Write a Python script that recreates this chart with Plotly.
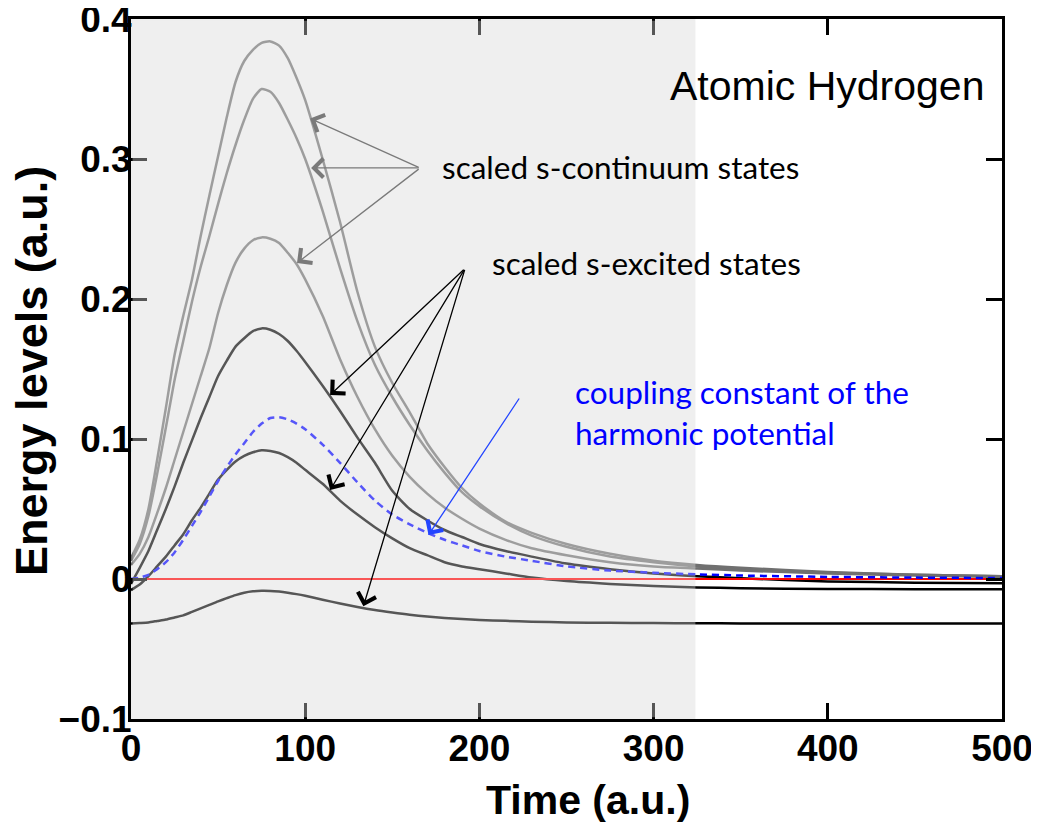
import plotly.graph_objects as go

# time grid (a.u.)
time = [0, 5, 10, 15, 20, 25, 30, 35, 40, 45, 50, 55, 60, 65, 70, 75, 80, 85, 90, 95,
        100, 110, 120, 130, 140, 150, 160, 170, 180, 190, 200, 215, 230, 250, 275,
        300, 325, 350, 400, 450, 500]

# scaled s-continuum states
cont_1 = [0.015, 0.028, 0.050, 0.085, 0.122, 0.160, 0.188, 0.214, 0.245, 0.274, 0.302,
          0.330, 0.355, 0.370, 0.378, 0.383, 0.384, 0.381, 0.372, 0.358, 0.342, 0.300,
          0.255, 0.205, 0.166, 0.140, 0.119, 0.097, 0.080, 0.065, 0.054, 0.041, 0.033,
          0.025, 0.018, 0.013, 0.010, 0.008, 0.005, 0.003, 0.002]
cont_2 = [0.013, 0.025, 0.045, 0.075, 0.108, 0.142, 0.170, 0.198, 0.223, 0.245, 0.268,
          0.290, 0.310, 0.328, 0.343, 0.350, 0.348, 0.340, 0.328, 0.315, 0.300, 0.263,
          0.222, 0.184, 0.153, 0.130, 0.110, 0.092, 0.076, 0.062, 0.052, 0.040, 0.031,
          0.023, 0.016, 0.012, 0.009, 0.007, 0.0045, 0.003, 0.002]
cont_3 = [0.010, 0.018, 0.030, 0.047, 0.065, 0.085, 0.105, 0.125, 0.145, 0.165, 0.190,
          0.210, 0.226, 0.236, 0.242, 0.244, 0.243, 0.240, 0.233, 0.225, 0.214, 0.188,
          0.157, 0.130, 0.107, 0.088, 0.073, 0.061, 0.051, 0.043, 0.036, 0.028, 0.022,
          0.017, 0.012, 0.009, 0.0075, 0.006, 0.004, 0.0025, 0.0015]

# scaled s-excited states
exc_1 = [-0.0035, 0.008, 0.020, 0.035, 0.050, 0.066, 0.083, 0.099, 0.115, 0.130, 0.145,
         0.156, 0.166, 0.172, 0.177, 0.179, 0.178, 0.175, 0.170, 0.163, 0.155, 0.138,
         0.120, 0.101, 0.083, 0.063, 0.050, 0.042, 0.035, 0.030, 0.025, 0.020, 0.016,
         0.011, 0.007, 0.004, 0.002, 0.0005, -0.0017, -0.0026, -0.003]
exc_2 = [-0.0079, -0.004, 0.002, 0.009, 0.016, 0.024, 0.032, 0.042, 0.051, 0.061, 0.071,
         0.078, 0.084, 0.088, 0.0905, 0.092, 0.0915, 0.090, 0.087, 0.083, 0.078, 0.068,
         0.056, 0.046, 0.037, 0.029, 0.022, 0.017, 0.012, 0.009, 0.007, 0.004, 0.001,
         -0.0015, -0.0035, -0.005, -0.006, -0.0066, -0.0071, -0.0073, -0.0074]
exc_3 = [-0.0317, -0.0314, -0.031, -0.030, -0.029, -0.0275, -0.026, -0.0235, -0.021,
         -0.0185, -0.016, -0.0137, -0.0115, -0.0098, -0.0088, -0.0084, -0.0085, -0.009,
         -0.0098, -0.0108, -0.012, -0.0148, -0.0175, -0.020, -0.0222, -0.024, -0.0256,
         -0.0268, -0.0278, -0.0286, -0.0292, -0.0299, -0.0305, -0.031, -0.0313, -0.0315,
         -0.0316, -0.0317, -0.0317, -0.0317, -0.0317]

# coupling constant of the harmonic potential
coupling = [0.0, 0.001, 0.003, 0.007, 0.012, 0.019, 0.028, 0.038, 0.048, 0.059, 0.070,
            0.080, 0.089, 0.097, 0.105, 0.111, 0.115, 0.1155, 0.114, 0.111, 0.107, 0.096,
            0.083, 0.069, 0.056, 0.046, 0.039, 0.033, 0.028, 0.024, 0.020, 0.016, 0.013,
            0.009, 0.006, 0.0045, 0.0033, 0.0025, 0.0015, 0.001, 0.0007]

zero_x = [0, 500]
zero_y = [0, 0]

x_ticks = [0, 100, 200, 300, 400, 500]
y_ticks = [-0.1, 0, 0.1, 0.2, 0.3, 0.4]

SHADE_END = 324

CONT_COLOR = "#707070"
EXC_COLOR = "#000000"
BLUE = "#0000FF"
RED = "#FF0000"

AXIS_FONT = "Liberation Sans, Arial, Helvetica, sans-serif"
NOTE_FONT = "Lato, Carlito, Calibri, sans-serif"

fig = go.Figure()

for ys in [cont_1, cont_2, cont_3]:
    fig.add_trace(
        go.Scatter(
            x=time,
            y=ys,
            mode="lines",
            line=dict(color=CONT_COLOR, width=2.5, shape="spline", smoothing=0.6),
            showlegend=False
        )
    )

for ys in [exc_1, exc_2, exc_3]:
    fig.add_trace(
        go.Scatter(
            x=time,
            y=ys,
            mode="lines",
            line=dict(color=EXC_COLOR, width=2.5, shape="spline", smoothing=0.6),
            showlegend=False
        )
    )

# zero line
fig.add_trace(
    go.Scatter(
        x=zero_x,
        y=zero_y,
        mode="lines",
        line=dict(color=RED, width=2.2),
        showlegend=False
    )
)

fig.add_trace(
    go.Scatter(
        x=time,
        y=coupling,
        mode="lines",
        line=dict(color=BLUE, width=2.5, dash="7px,5px", shape="spline", smoothing=0.6),
        showlegend=False
    )
)

# shaded time window: grey background + light veil over the curves
fig.add_shape(
    type="rect", xref="x", yref="y",
    x0=0, x1=SHADE_END, y0=-0.1, y1=0.4,
    fillcolor="#EFEFEF", line_width=0, layer="below"
)
fig.add_shape(
    type="rect", xref="x", yref="y",
    x0=0.9, x1=SHADE_END, y0=-0.0988, y1=0.3988,
    fillcolor="#EFEFEF", opacity=0.36, line_width=0, layer="above"
)

# labels
fig.add_annotation(
    x=308.4, y=0.352, xref="x", yref="y",
    text="Atomic Hydrogen", showarrow=False,
    xanchor="left", yanchor="middle",
    font=dict(family=AXIS_FONT, size=41, color="black")
)
fig.add_annotation(
    x=177.5, y=0.2943, xref="x", yref="y",
    text="scaled s-continuum states", showarrow=False,
    xanchor="left", yanchor="middle",
    font=dict(family=NOTE_FONT, size=31.5, color="black")
)
fig.add_annotation(
    x=206.2, y=0.2258, xref="x", yref="y",
    text="scaled s-excited states", showarrow=False,
    xanchor="left", yanchor="middle",
    font=dict(family=NOTE_FONT, size=31.5, color="black")
)
fig.add_annotation(
    x=253.9, y=0.1186, xref="x", yref="y",
    text="coupling constant of the<br>harmonic potential", showarrow=False,
    xanchor="left", yanchor="middle", align="left",
    font=dict(family=NOTE_FONT, size=31.5, color="#0000FF")
)

# arrows: (head x, head y, tail x, tail y, color)
arrows = [
    (102.8, 0.329, 166.0, 0.2936, "#7A7A7A"),
    (103.4, 0.2936, 166.0, 0.2936, "#7A7A7A"),
    (95.3, 0.2257, 166.0, 0.2936, "#7A7A7A"),
    (114.3, 0.1314, 191.8, 0.2219, "black"),
    (114.3, 0.0636, 191.8, 0.2219, "black"),
    (133.4, -0.0195, 191.8, 0.2219, "black"),
    (170.8, 0.0314, 223.4, 0.130, "#2244FF"),
]
for hx, hy, tx, ty, col in arrows:
    fig.add_annotation(
        x=hx, y=hy, ax=tx, ay=ty,
        xref="x", yref="y", axref="x", ayref="y",
        text="", showarrow=True,
        arrowhead=4, arrowsize=2.8, arrowwidth=1.3, arrowcolor=col
    )

# axis titles
fig.add_annotation(
    x=0.5247, y=-0.116, xref="paper", yref="paper",
    text="Time (a.u.)", showarrow=False,
    xanchor="center", yanchor="middle",
    font=dict(family=AXIS_FONT, size=41, color="black", weight="bold")
)
fig.add_annotation(
    x=-0.115, y=0.497, xref="paper", yref="paper",
    text="Energy levels (a.u.)", showarrow=False, textangle=-90,
    xanchor="center", yanchor="middle",
    font=dict(family=AXIS_FONT, size=45, color="black", weight="bold")
)

fig.update_xaxes(
    range=[0, 500],
    tickvals=x_ticks,
    ticks="inside", ticklen=16, tickwidth=2.5, tickcolor="black",
    showline=True, linewidth=3, linecolor="black", mirror="ticks",
    showgrid=False, zeroline=False, automargin=False,
    ticklabelstandoff=-5, ticklabeloverflow="allow",
    tickfont=dict(family=AXIS_FONT, size=37, color="black", weight="bold")
)
fig.update_yaxes(
    range=[-0.1, 0.4],
    tickvals=y_ticks,
    ticks="inside", ticklen=16, tickwidth=2.5, tickcolor="black",
    showline=True, linewidth=3, linecolor="black", mirror="ticks",
    showgrid=False, zeroline=False, automargin=False,
    ticklabelstandoff=-11, ticklabeloverflow="allow",
    tickfont=dict(family=AXIS_FONT, size=37, color="black", weight="bold")
)

# page body adds an 8px offset, so the figure is sized and placed to compensate
fig.update_layout(
    width=1031,
    height=818,
    autosize=False,
    margin=dict(l=123, r=37, t=11, b=107),
    paper_bgcolor="white",
    plot_bgcolor="white",
    showlegend=False
)

fig.write_html("out.html")
